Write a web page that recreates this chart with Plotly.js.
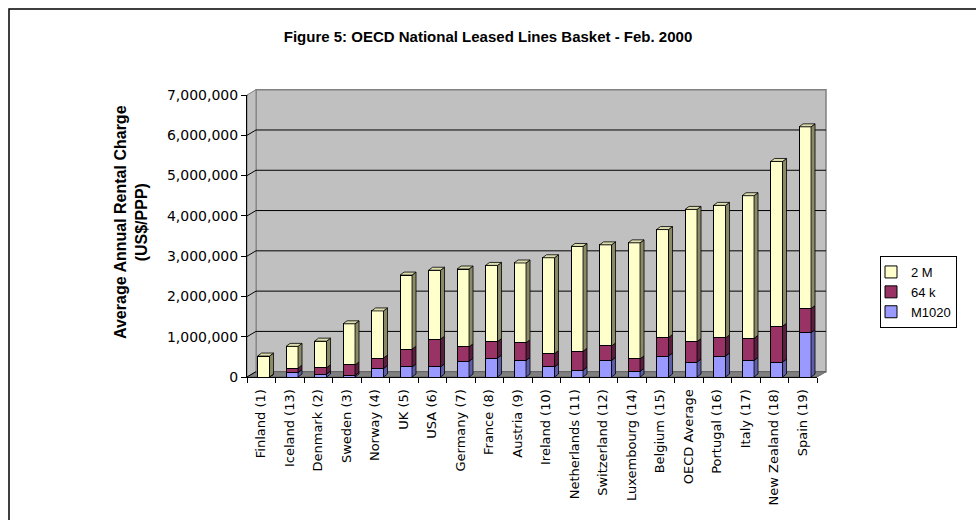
<!DOCTYPE html>
<html><head><meta charset="utf-8">
<script src="https://cdn.plot.ly/plotly-3.0.1.min.js"></script>
<style>html,body{margin:0;padding:0;background:#fff}#chart{width:976px;height:520px}</style>
</head><body><div id="chart"></div>
<script>
// ---- data ----
const categories = ["Finland (1)","Iceland (13)","Denmark (2)","Sweden (3)","Norway (4)","UK (5)","USA (6)","Germany (7)","France (8)","Austria (9)","Ireland (10)","Netherlands (11)","Switzerland (12)","Luxembourg (14)","Belgium (15)","OECD Average","Portugal (16)","Italy (17)","New Zealand (18)","Spain (19)"];
const m1020 = [0, 110000, 70000, 40000, 210000, 250000, 250000, 390000, 470000, 410000, 250000, 170000, 410000, 140000, 520000, 370000, 520000, 410000, 370000, 1100000];
const k64   = [0, 110000, 160000, 260000, 260000, 440000, 690000, 360000, 410000, 440000, 330000, 470000, 360000, 310000, 460000, 510000, 450000, 550000, 890000, 600000];
const m2    = [520000, 540000, 660000, 1020000, 1170000, 1840000, 1710000, 1930000, 1890000, 1980000, 2380000, 2600000, 2510000, 2880000, 2680000, 3280000, 3290000, 3540000, 4090000, 4510000];
const seriesNames = ["M1020", "64 k", "2 M"];
const yTicks = [0, 1000000, 2000000, 3000000, 4000000, 5000000, 6000000, 7000000];
const chartTitle = "Figure 5: OECD National Leased Lines Basket - Feb. 2000";
const yTitle = "Average Annual Rental Charge<br>(US$/PPP)";

// ---- styling ----
const frontCol = ["#9999FF", "#993366", "#FFFFCC"];
const sideCol  = ["#5E5EA8", "#5A1E3E", "#8A8A66"];
const topCol   = "#DCDCAE";

const W = 976, H = 520, L = 247, R = 817, T = 95, B = 377;
const plotW = R - L, plotH = B - T;
const YMAX = 7000000;
const DEPTH_PX_X = 9, DEPTH_PX_Y = 5.3;      // back wall offset
const BAR_DX_PX = 4, BAR_DY_PX = 3;           // bar 3D depth
const barW = 0.42, barOff = -0.13;
const px = v => (v - L) / plotW;
const py = v => (B - v) / plotH;

const xs = categories.map((_, i) => i);
const series = [m1020, k64, m2];
const slotPx = plotW / categories.length;
const dX = BAR_DX_PX / slotPx;
const dY = BAR_DY_PX * YMAX / plotH;

const traces = [];
series.forEach((vals, si) => {
  traces.push({
    type: 'bar', name: seriesNames[si], x: xs, y: vals,
    width: barW, offset: barOff,
    marker: {color: frontCol[si], line: {color: '#000', width: 1}},
    hoverinfo: 'skip'
  });
});
const base = xs.map(() => 0);
series.forEach((vals, si) => {
  const sx = [], sy = [];
  vals.forEach((v, i) => {
    const b = base[i], t = b + v, xr = i + barOff + barW;
    sx.push(xr, xr + dX, xr + dX, xr, xr, null);
    sy.push(b, b + dY, t + dY, t, b, null);
    base[i] = t;
  });
  traces.push({type: 'scatter', mode: 'lines', x: sx, y: sy, fill: 'toself',
    fillcolor: sideCol[si], line: {color: '#000', width: 0.8},
    showlegend: false, hoverinfo: 'skip'});
});
{
  const tx = [], ty = [];
  base.forEach((t, i) => {
    const xl = i + barOff, xr = xl + barW;
    tx.push(xl, xl + dX, xr + dX, xr, xl, null);
    ty.push(t, t + dY, t + dY, t, t, null);
  });
  traces.push({type: 'scatter', mode: 'lines', x: tx, y: ty, fill: 'toself',
    fillcolor: topCol, line: {color: '#000', width: 0.8},
    showlegend: false, hoverinfo: 'skip'});
}

const shapes = [];
// outer chart border
shapes.push({type: 'rect', xref: 'paper', yref: 'paper', x0: px(9), x1: px(1000), y0: py(9), y1: py(560),
  line: {color: '#000', width: 1.5}, fillcolor: 'rgba(0,0,0,0)', layer: 'below'});
// back wall
shapes.push({type: 'rect', xref: 'paper', yref: 'paper',
  x0: px(L + DEPTH_PX_X), x1: px(R + DEPTH_PX_X), y0: py(B - DEPTH_PX_Y), y1: py(T - DEPTH_PX_Y),
  line: {color: '#808080', width: 1.5}, fillcolor: '#C0C0C0', layer: 'below'});
// left side wall
shapes.push({type: 'path', xref: 'paper', yref: 'paper', layer: 'below',
  path: `M${px(L)},${py(B)} L${px(L + DEPTH_PX_X)},${py(B - DEPTH_PX_Y)} L${px(L + DEPTH_PX_X)},${py(T - DEPTH_PX_Y)} L${px(L)},${py(T)} Z`,
  line: {color: '#808080', width: 1}, fillcolor: '#C0C0C0'});
// floor
shapes.push({type: 'path', xref: 'paper', yref: 'paper', layer: 'below',
  path: `M${px(L)},${py(B)} L${px(L + DEPTH_PX_X)},${py(B - DEPTH_PX_Y)} L${px(R + DEPTH_PX_X)},${py(B - DEPTH_PX_Y)} L${px(R)},${py(B)} Z`,
  line: {color: '#606060', width: 1}, fillcolor: '#808080'});
// gridlines on back wall and connectors on side wall
yTicks.forEach((v, k) => {
  if (k > 0 && k < yTicks.length - 1) {
    shapes.push({type: 'line', xref: 'paper', yref: 'y', ysizemode: 'pixel', yanchor: v,
      x0: px(L + DEPTH_PX_X), x1: px(R + DEPTH_PX_X), y0: DEPTH_PX_Y, y1: DEPTH_PX_Y,
      line: {color: '#000', width: 1}, layer: 'below'});
  }
  shapes.push({type: 'line', xref: 'paper', yref: 'y', ysizemode: 'pixel', yanchor: v,
    x0: 0, x1: px(L + DEPTH_PX_X), y0: 0, y1: DEPTH_PX_Y,
    line: {color: '#000', width: 1}, layer: 'below'});
});

const layout = {
  width: W, height: H,
  margin: {l: L, r: W - R, t: T, b: H - B, autoexpand: false},
  paper_bgcolor: '#FFFFFF', plot_bgcolor: 'rgba(0,0,0,0)',
  barmode: 'stack',
  showlegend: true,
  hovermode: false,
  font: {family: 'Liberation Sans, Arial, sans-serif', color: '#000', size: 12},
  title: {text: chartTitle, x: 0.5, xref: 'container', xanchor: 'center', y: 1 - 37 / H, yref: 'container', yanchor: 'middle',
    font: {family: 'Liberation Sans, Arial, sans-serif', size: 15, weight: 'bold', color: '#000'}},
  xaxis: {
    range: [-0.5, categories.length - 0.5], tickmode: 'array', tickvals: xs, ticktext: categories,
    tickangle: -90, ticks: '', ticklabelstandoff: 6,
    minor: {tickmode: 'array', tickvals: xs.map(i => i - 0.5).concat([categories.length - 0.5]), ticks: 'outside', ticklen: 5, tickcolor: '#000', showgrid: false},
    showline: true, linecolor: '#000', linewidth: 1, showgrid: false, zeroline: false, fixedrange: true,
    tickfont: {family: 'DejaVu Sans, sans-serif', size: 13, color: '#000'}
  },
  yaxis: {
    range: [0, YMAX], tickmode: 'array', tickvals: yTicks, tickformat: ',d',
    ticks: 'outside', ticklen: 5, tickcolor: '#000',
    showline: true, linecolor: '#000', linewidth: 1, showgrid: false, zeroline: false, fixedrange: true,
    tickfont: {family: 'DejaVu Sans, sans-serif', size: 14, color: '#000'}
  },
  legend: {
    x: px(880), xref: 'paper', xanchor: 'left', y: py(256), yanchor: 'top',
    traceorder: 'reversed', bgcolor: '#FFFFFF', bordercolor: '#000', borderwidth: 1,
    font: {family: 'Liberation Sans, Arial, sans-serif', size: 13, color: '#000'},
    indentation: -10, itemwidth: 30
  },
  annotations: [{
    text: yTitle, xref: 'paper', yref: 'paper', x: px(131), y: py(222),
    xanchor: 'center', yanchor: 'middle', textangle: -90, showarrow: false,
    font: {family: 'Liberation Sans, Arial, sans-serif', size: 16, weight: 'bold', color: '#000'}
  }],
  shapes: shapes
};

Plotly.newPlot('chart', traces, layout, {staticPlot: true, displayModeBar: false});
</script>
</body></html>
